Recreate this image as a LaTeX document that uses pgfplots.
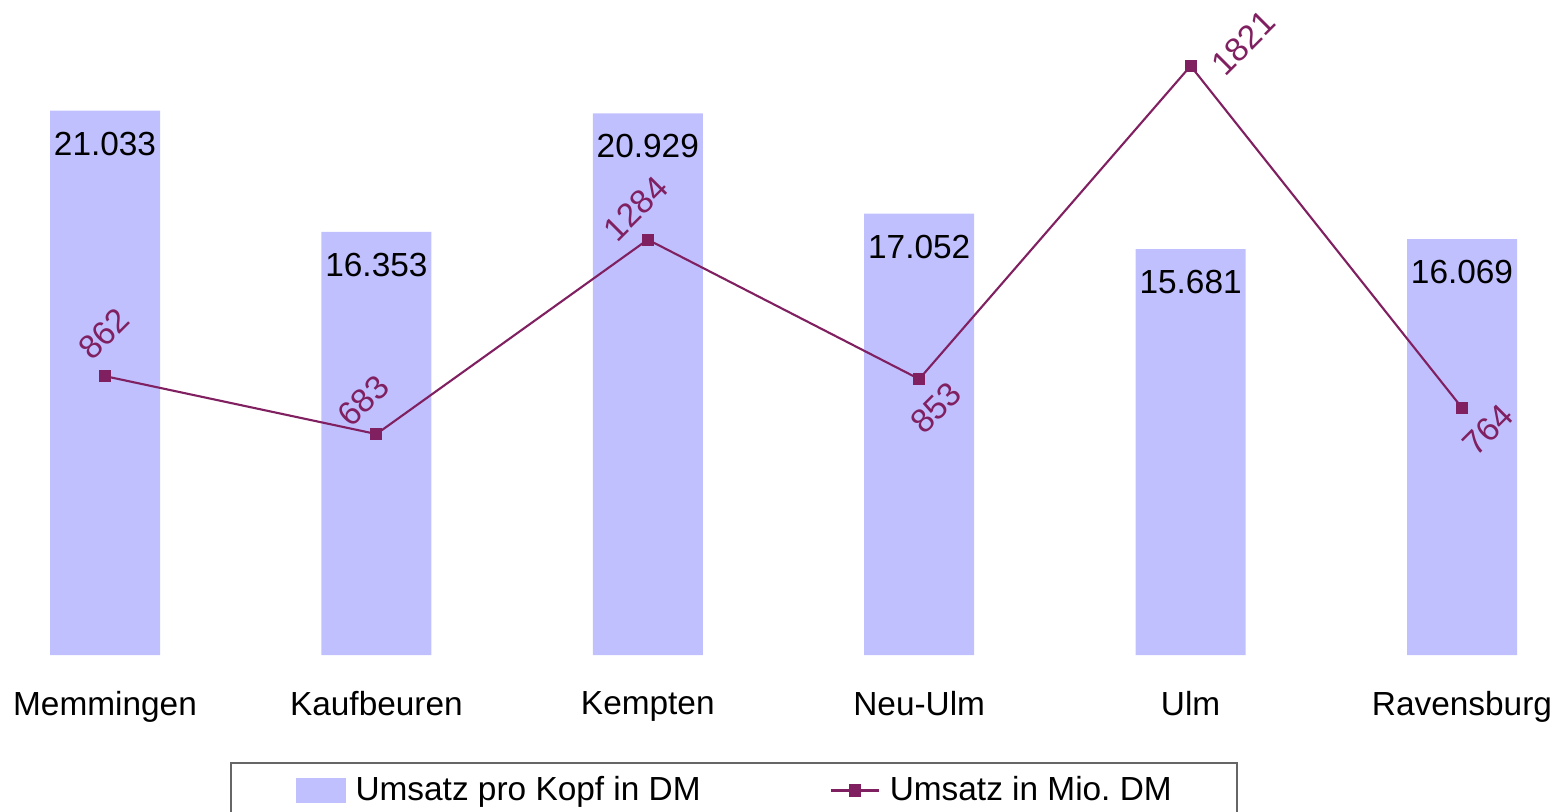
\documentclass[border=0pt]{standalone}
\usepackage{fontspec}
\setmainfont{Liberation Sans}
\usepackage{pgfplots}
\usepackage{pgfplotstable}
\pgfplotsset{compat=1.18}

\definecolor{barfill}{RGB}{192,192,255}
\definecolor{linecol}{RGB}{128,32,96}

% Umsatz pro Kopf in DM
\pgfplotstableread{
x y
0 21033
1 16353
2 20929
3 17052
4 15681
5 16069
}\kopf

% Umsatz in Mio. DM, with label offsets (mm)
\pgfplotstableread{
x y dx dy
0 862 -0.1 4.2
1 683 -1.3 3.3
2 1284 -1.2 3.1
3 853 1.7 -2.9
4 1821 5.3 2.3
5 764 2.6 -2.2
}\umsatz

\begin{document}
\begin{tikzpicture}
    \fontsize{9.5}{11}\selectfont
    \pgfplotsset{
        base/.style={
            scale only axis,
            width=156.2mm, height=64.7mm,
            xmin=-0.3869, xmax=5.3685,
            ymin=0,
            clip=false,
            axis line style={draw=none},
            major tick length=0pt,
            ytick=\empty,
            /pgf/number format/assume math mode=true,
        },
    }
    \begin{axis}[base,
            name=bar,
            ymax=25000,
            ybar,
            bar width=11mm,
            xtick={0,...,5},
            xticklabels={Memmingen,Kaufbeuren,Kempten,Neu-Ulm,Ulm,Ravensburg},
            xticklabel style={anchor=north, inner sep=0pt, yshift=-3.55mm,
                font=\fontsize{9.5}{11}\selectfont},
            nodes near coords={\pgfmathprintnumber[1000 sep={.}]{\pgfplotspointmeta}},
            nodes near coords style={anchor=center, yshift=-3.3mm, text=black,
                font=\fontsize{9.5}{11}\selectfont},
        ]
        \addplot[fill=barfill, draw=none] table[x=x, y=y] {\kopf};
    \end{axis}
    \begin{axis}[base,
            ymax=2000,
            xtick=\empty,
            /pgf/number format/1000 sep={},
            nodes near coords,
            visualization depends on={\thisrow{dx} \as \dx},
            visualization depends on={\thisrow{dy} \as \dy},
            nodes near coords style={anchor=center, xshift=\dx mm, yshift=\dy mm,
                rotate=45, text=linecol, font=\fontsize{9.5}{11}\selectfont},
            legend columns=2,
            legend style={
                at={(0.1472,-0.1654)}, anchor=north west,
                draw=black!60, line width=0.5pt,
                inner xsep=6.5mm, inner ysep=1.3mm,
                nodes={inner sep=0pt},
                font=\fontsize{9.5}{11}\selectfont,
                /tikz/every odd column/.append style={column sep=1mm},
                /tikz/every even column/.append style={column sep=12.9mm},
            },
        ]
        \addlegendimage{legend image code/.code={
                \fill[barfill] (0mm,-1.2mm) rectangle (4.8mm,1.2mm);}}
        \addlegendentry{Umsatz pro Kopf in DM}
        \addplot[linecol, line width=0.6pt, mark=square*, mark size=0.5mm,
            mark options={fill=linecol},
            legend image code/.code={
                \draw[mark repeat=2, mark phase=2] plot coordinates {(0mm,0mm) (2.4mm,0mm) (4.8mm,0mm)};}]
            table[x=x, y=y] {\umsatz};
        \addlegendentry{Umsatz in Mio.\ DM}
    \end{axis}
    \pgfresetboundingbox
    \path[use as bounding box] ([yshift=-15.6mm]bar.south west) rectangle ([yshift=0.8mm]bar.north east);
\end{tikzpicture}
\end{document}
